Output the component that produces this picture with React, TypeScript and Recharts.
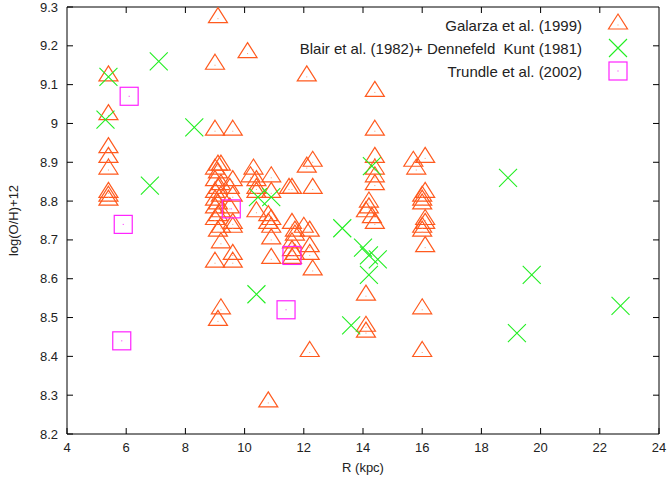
import React from 'react';
import { ScatterChart, Scatter, XAxis, YAxis, Legend, ReferenceLine } from 'recharts';

// Galarza et al. (1999)
const galarzaR = [
  5.4, 5.4, 5.4, 5.4, 5.4, 5.4, 5.4, 5.4,
  9.1, 9.0, 10.1, 12.1, 9.0, 9.6,
  9.1, 9.2, 9.0, 9.1, 9.0, 9.2, 9.1, 9.0, 9.2, 9.0, 9.1, 9.0, 9.2, 9.1, 9.0, 9.2, 9.1, 9.2, 9.0,
  9.6, 9.5, 9.6, 9.5, 9.6, 9.6, 9.6, 9.6,
  9.2, 9.1,
  10.2, 10.3, 10.4, 10.4, 10.4, 10.4,
  10.9, 10.9, 10.8, 10.9, 10.8, 10.9, 10.9, 10.9,
  10.8,
  11.5, 11.6, 11.6, 11.7, 11.7, 11.6, 11.6, 11.7, 11.6,
  12.0,
  12.1, 12.3, 12.3, 12.2, 12.2, 12.2, 12.3, 12.2,
  14.4, 14.4, 14.4, 14.4, 14.4, 14.4,
  14.2, 14.2, 14.1, 14.3, 14.4,
  14.1, 14.1, 14.1,
  15.7, 16.1, 15.8,
  16.1, 16.0, 16.0, 16.0, 16.1, 16.1, 16.0, 16.0, 16.1,
  16.0, 16.0,
];
const galarzaOH = [
  9.12, 9.02, 8.935, 8.91, 8.88, 8.82, 8.81, 8.8,
  9.27, 9.15, 9.18, 9.12, 8.98, 8.98,
  8.89, 8.89, 8.88, 8.87, 8.85, 8.84, 8.83, 8.82, 8.81, 8.8, 8.79, 8.78, 8.77, 8.76, 8.75, 8.73, 8.72, 8.69, 8.64,
  8.85, 8.83, 8.81, 8.78, 8.74, 8.73, 8.66, 8.64,
  8.52, 8.49,
  8.86, 8.88, 8.85, 8.83, 8.82, 8.77,
  8.86, 8.82, 8.76, 8.75, 8.74, 8.73, 8.7, 8.65,
  8.28,
  8.83, 8.83, 8.74, 8.72, 8.71, 8.69, 8.67, 8.66, 8.65,
  8.73,
  8.885, 8.9, 8.83, 8.72, 8.68, 8.66, 8.62, 8.41,
  9.08, 8.98, 8.91, 8.88, 8.86, 8.84,
  8.795, 8.78, 8.77, 8.755, 8.74,
  8.555, 8.475, 8.46,
  8.9, 8.91, 8.88,
  8.82, 8.81, 8.8, 8.79, 8.75, 8.74, 8.73, 8.72, 8.68,
  8.52, 8.41,
];

// Blair et al. (1982) + Dennefeld Kunt (1981)
const blairR = [5.4, 5.3, 7.1, 8.3, 6.8, 10.45, 10.9, 10.4, 13.3, 14.3, 14.0, 14.2, 14.5, 14.2, 13.6, 18.9, 19.7, 19.2, 22.7];
const blairOH = [9.12, 9.01, 9.16, 8.99, 8.84, 8.81, 8.81, 8.56, 8.73, 8.89, 8.68, 8.66, 8.65, 8.61, 8.48, 8.86, 8.61, 8.46, 8.53];

// Trundle et al. (2002)
const trundleR = [6.1, 5.9, 5.85, 9.55, 11.6, 11.4];
const trundleOH = [9.07, 8.74, 8.44, 8.78, 8.66, 8.52];

const xTicks = [4, 6, 8, 10, 12, 14, 16, 18, 20, 22, 24];
const yTicks = [8.2, 8.3, 8.4, 8.5, 8.6, 8.7, 8.8, 8.9, 9.0, 9.1, 9.2, 9.3];

const seriesNames = [
  'Galarza et al. (1999)',
  'Blair et al. (1982)+ Dennefeld  Kunt (1981)',
  'Trundle et al. (2002)',
];

const ORANGE = '#ff5a1e';
const GREEN = '#22ee22';
const MAGENTA = '#ff22ff';
const FONT = 'Liberation Sans, Arial, sans-serif';
const TICK_LEN = 6;

const toPoints = (xs: number[], ys: number[]) => xs.map((r, i) => ({ r, oh: ys[i] }));

const galarza = toPoints(galarzaR, galarzaOH);
const blair = toPoints(blairR, blairOH);
const trundle = toPoints(trundleR, trundleOH);

const Triangle = ({ cx, cy }: any) => (
  <g>
    <path d={`M${cx},${cy - 11} L${cx + 9.5},${cy + 4} L${cx - 9.5},${cy + 4} Z`} fill="none" stroke={ORANGE} strokeWidth={1.2} />
    <rect x={cx - 0.5} y={cy - 0.5} width={1} height={1} fill="#ff9a70" />
  </g>
);

const Cross = ({ cx, cy }: any) => (
  <path d={`M${cx - 9},${cy - 9} L${cx + 9},${cy + 9} M${cx - 9},${cy + 9} L${cx + 9},${cy - 9}`} stroke={GREEN} strokeWidth={1.1} fill="none" />
);

const Square = ({ cx, cy }: any) => (
  <g>
    <rect x={cx - 9} y={cy - 9} width={18} height={18} fill="none" stroke={MAGENTA} strokeWidth={1.2} />
    <rect x={cx - 0.5} y={cy - 0.5} width={1} height={1} fill={MAGENTA} />
  </g>
);

const fmtY = (v: number) => String(Number(v.toFixed(1)));

// inward ticks (gnuplot style); x/y arrive at the inner end of the tick
const BottomTick = ({ x, y, payload }: any) => (
  <g>
    <line x1={x} y1={y} x2={x} y2={y + TICK_LEN} stroke="#000" />
    <text x={x} y={y + TICK_LEN + 9} dy="0.71em" textAnchor="middle" fontSize={13} fill="#222" fontFamily={FONT}>
      {payload.value}
    </text>
  </g>
);
const LeftTick = ({ x, y, payload }: any) => (
  <g>
    <line x1={x - TICK_LEN} y1={y} x2={x} y2={y} stroke="#000" />
    <text x={x - TICK_LEN - 9} y={y} dy="0.35em" textAnchor="end" fontSize={13} fill="#222" fontFamily={FONT}>
      {fmtY(payload.value)}
    </text>
  </g>
);

// mirrored ticks on top / right edges, drawn from reference lines
const TopMirrorTick = (p: any) => {
  const top = Math.min(p.y1, p.y2);
  return <line x1={p.x1} y1={top} x2={p.x1} y2={top + TICK_LEN} stroke="#000" />;
};
const RightMirrorTick = (p: any) => {
  const right = Math.max(p.x1, p.x2);
  return <line x1={right - TICK_LEN} y1={p.y1} x2={right} y2={p.y1} stroke="#000" />;
};

const YLabel = ({ viewBox }: any) => {
  const x = viewBox.x + 13;
  const y = viewBox.y + viewBox.height / 2;
  return (
    <text x={x} y={y} transform={`rotate(-90 ${x} ${y})`} textAnchor="middle" dominantBaseline="central"
      fontSize={13} fill="#222" fontFamily={FONT}>
      log(O/H)+12
    </text>
  );
};

const LegendBox = () => {
  const rows = [0, 1, 2];
  return (
    <svg width={667} height={90} style={{ overflow: 'visible' }}>
      {rows.map((i) => {
        const y = 25 + i * 23;
        return (
          <g key={i}>
            <text x={582} y={y} textAnchor="end" dominantBaseline="central" fontSize={15} fill="#222"
              fontFamily={FONT} style={{ whiteSpace: 'pre' }}>
              {seriesNames[i]}
            </text>
            {i === 0 && <Triangle cx={618} cy={y} />}
            {i === 1 && <Cross cx={618} cy={y} />}
            {i === 2 && <Square cx={618} cy={y} />}
          </g>
        );
      })}
    </svg>
  );
};

export default function App() {
  return (
    <div style={{ position: 'absolute', left: 0, top: 0, width: 667, height: 481, background: '#fff' }}>
      <ScatterChart width={667} height={481} margin={{ top: 7, right: 8, bottom: 0, left: 0 }}>
        <XAxis
          type="number"
          dataKey="r"
          domain={[4, 24]}
          ticks={xTicks}
          interval={0}
          height={47}
          stroke="#000"
          tickSize={-TICK_LEN}
          tickMargin={0}
          tickLine={false}
          tick={BottomTick}
          label={{ value: 'R (kpc)', position: 'insideBottom', offset: 9, fontSize: 13, fill: '#222', fontFamily: FONT }}
        />
        <YAxis
          type="number"
          dataKey="oh"
          domain={[8.2, 9.3]}
          ticks={yTicks}
          interval={0}
          width={67}
          stroke="#000"
          tickSize={-TICK_LEN}
          tickMargin={0}
          tickLine={false}
          tick={LeftTick}
          label={{ content: YLabel }}
        />
        {xTicks.slice(1, -1).map((t) => (
          <ReferenceLine key={`tx${t}`} x={t} shape={TopMirrorTick} />
        ))}
        {yTicks.slice(1, -1).map((t) => (
          <ReferenceLine key={`ty${t}`} y={t} shape={RightMirrorTick} />
        ))}
        <ReferenceLine y={9.3} stroke="#000" />
        <ReferenceLine x={24} stroke="#000" />
        <Legend
          layout="horizontal"
          verticalAlign="middle"
          align="center"
          wrapperStyle={{ top: 0, left: 0, width: 667, height: 90 }}
          content={LegendBox}
        />
        <Scatter name={seriesNames[0]} data={galarza} shape={Triangle} isAnimationActive={false} />
        <Scatter name={seriesNames[1]} data={blair} shape={Cross} isAnimationActive={false} />
        <Scatter name={seriesNames[2]} data={trundle} shape={Square} isAnimationActive={false} />
      </ScatterChart>
    </div>
  );
}
